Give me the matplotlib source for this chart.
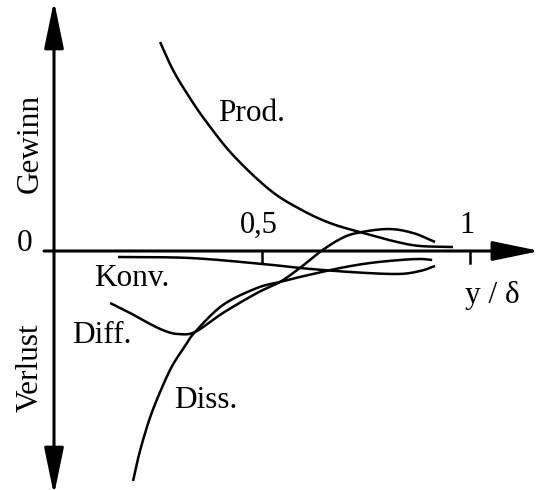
import numpy as np
import matplotlib
matplotlib.use("Agg")
import matplotlib.pyplot as plt

plt.rcParams['font.family'] = ['Liberation Serif', 'DejaVu Serif']

# Energiebilanz der turbulenten Grenzschicht (schematisch), y / delta gegen Gewinn/Verlust
prod_x = [0.255, 0.286, 0.322, 0.363, 0.430, 0.519, 0.591, 0.663, 0.743, 0.825, 0.880, 0.959]
prod_y = [2.09, 1.81, 1.56, 1.31, 0.96, 0.61, 0.42, 0.28, 0.18, 0.09, 0.05, 0.04]

diss_x = [0.190, 0.200, 0.214, 0.233, 0.257, 0.284, 0.315, 0.339, 0.406, 0.488,
          0.543, 0.591, 0.688, 0.760, 0.832, 0.880, 0.909]
diss_y = [-2.30, -2.11, -1.89, -1.64, -1.39, -1.15, -0.95, -0.81, -0.54, -0.37,
          -0.31, -0.26, -0.17, -0.12, -0.09, -0.08, -0.09]

diff_x = [0.135, 0.183, 0.231, 0.267, 0.298, 0.339, 0.406, 0.488, 0.543, 0.591,
          0.639, 0.688, 0.728, 0.803, 0.863, 0.916]
diff_y = [-0.52, -0.62, -0.73, -0.80, -0.83, -0.81, -0.62, -0.42, -0.31, -0.17,
          -0.01, 0.12, 0.18, 0.22, 0.18, 0.09]

konv_x = [0.154, 0.327, 0.502, 0.591, 0.712, 0.825, 0.880, 0.916]
konv_y = [-0.06, -0.07, -0.13, -0.17, -0.21, -0.23, -0.20, -0.15]

x_ticks = [0.5, 1.0]
x_tick_labels = ['0,5', '1']


def smooth(xs, ys, n=20):
    # Catmull-Rom durch die Stuetzpunkte, nur fuer eine glatte Linie
    p = np.column_stack([xs, ys])
    p = np.vstack([2 * p[0] - p[1], p, 2 * p[-1] - p[-2]])
    out = []
    t = np.linspace(0, 1, n, endpoint=False)[:, None]
    for i in range(1, len(p) - 2):
        p0, p1, p2, p3 = p[i - 1], p[i], p[i + 1], p[i + 2]
        seg = 0.5 * ((2 * p1) + (-p0 + p2) * t
                     + (2 * p0 - 5 * p1 + 4 * p2 - p3) * t ** 2
                     + (-p0 + 3 * p1 - 3 * p2 + p3) * t ** 3)
        out.append(seg)
    out.append(p[-2][None, :])
    out = np.vstack(out)
    return out[:, 0], out[:, 1]


fig = plt.figure(figsize=(5.41, 4.90), dpi=100)
ax = fig.add_axes([0, 0, 1, 1])
ax.set_xlim(-54 / 416, 487 / 416)
ax.set_ylim(-2.39, 2.51)
ax.axis('off')

lw = 1.8
for xs, ys in [(prod_x, prod_y), (diss_x, diss_y), (diff_x, diff_y), (konv_x, konv_y)]:
    sx, sy = smooth(xs, ys)
    ax.plot(sx, sy, color='black', lw=lw, solid_capstyle='butt')

# Achsen mit Pfeilspitzen
arrow = dict(arrowstyle='-|>,head_length=1.45,head_width=0.3', color='black',
             lw=2.2, shrinkA=0, shrinkB=0, mutation_scale=20)
ax.annotate('', xy=(1.168, 0), xytext=(-0.024, 0), arrowprops=arrow,
            annotation_clip=False)
ax.annotate('', xy=(0, 2.50), xytext=(0, 0), arrowprops=arrow,
            annotation_clip=False)
ax.annotate('', xy=(0, -2.44), xytext=(0, 0), arrowprops=arrow,
            annotation_clip=False)

for xt, lab in zip(x_ticks, x_tick_labels):
    ax.plot([xt, xt], [0, -0.12], color='black', lw=1.8)
    ax.text(xt - 0.007, 0.26, lab, fontsize=22, ha='center', va='center')

fs = 22.5
ax.text(-0.07, 0.08, '0', fontsize=fs, ha='center', va='center')
ax.text(1.053, -0.44, 'y / δ', fontsize=fs, ha='center', va='center')
ax.text(-0.058, 1.08, 'Gewinn', fontsize=fs, ha='center', va='center', rotation=90)
ax.text(-0.058, -1.17, 'Verlust', fontsize=fs, ha='center', va='center', rotation=90)
ax.text(0.475, 1.38, 'Prod.', fontsize=fs, ha='center', va='center')
ax.text(0.188, -0.27, 'Konv.', fontsize=fs, ha='center', va='center')
ax.text(0.116, -0.84, 'Diff.', fontsize=fs, ha='center', va='center')
ax.text(0.365, -1.49, 'Diss.', fontsize=fs, ha='center', va='center')

fig.savefig('out.png', dpi=100)
